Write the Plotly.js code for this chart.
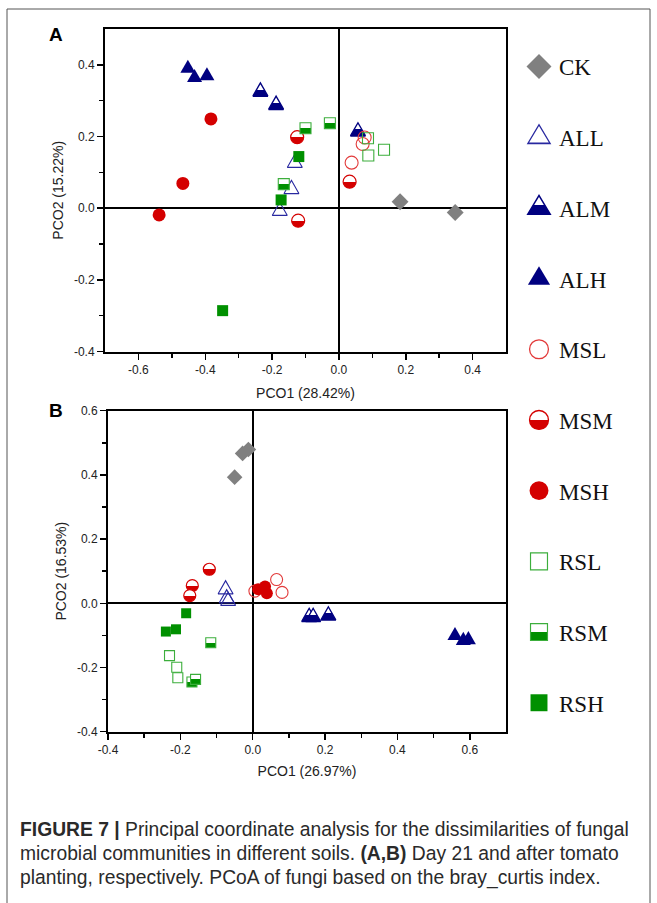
<!DOCTYPE html>
<html><head><meta charset="utf-8">
<script src="https://cdn.plot.ly/plotly-3.0.1.min.js"></script>
<style>html,body{margin:0;padding:0;background:#fff}#chart{width:657px;height:903px}</style>
</head><body><div id="chart"></div>
<script>
// ---- data ----
const GROUPS = ['CK','ALL','ALM','ALH','MSL','MSM','MSH','RSL','RSM','RSH'];

// Panel A (Day 21)
const A_PCO1 = [
  [0.183, 0.348],
  [-0.132, -0.142, -0.177],
  [-0.235, -0.188, 0.057],
  [-0.452, -0.432, -0.395],
  [0.077, 0.071, 0.038],
  [-0.125, 0.032, -0.122],
  [-0.383, -0.467, -0.538],
  [0.087, 0.135, 0.088],
  [-0.100, -0.027, -0.165],
  [-0.120, -0.173, -0.348]
];
const A_PCO2 = [
  [0.018, -0.012],
  [0.126, 0.053, -0.008],
  [0.325, 0.288, 0.214],
  [0.390, 0.364, 0.369],
  [0.197, 0.179, 0.127],
  [0.198, 0.074, -0.035],
  [0.249, 0.069, -0.019],
  [0.195, 0.163, 0.147],
  [0.223, 0.237, 0.067],
  [0.144, 0.023, -0.286]
];

// Panel B (after tomato planting)
const B_PCO1 = [
  [-0.012, -0.028, -0.050],
  [-0.075, -0.072, -0.068],
  [0.156, 0.167, 0.209],
  [0.559, 0.582, 0.596],
  [0.006, 0.066, 0.081],
  [-0.120, -0.167, -0.174],
  [0.015, 0.034, 0.039],
  [-0.230, -0.210, -0.207],
  [-0.116, -0.168, -0.158],
  [-0.184, -0.212, -0.240]
];
const B_PCO2 = [
  [0.479, 0.467, 0.393],
  [0.043, 0.015, 0.007],
  [-0.043, -0.043, -0.038],
  [-0.101, -0.116, -0.114],
  [0.038, 0.074, 0.034],
  [0.106, 0.055, 0.024],
  [0.044, 0.052, 0.031],
  [-0.163, -0.199, -0.232],
  [-0.123, -0.245, -0.237],
  [-0.031, -0.081, -0.088]
];

const A_XTICKS = [-0.6, -0.4, -0.2, 0, 0.2, 0.4];
const A_XLABELS = ['-0.6', '-0.4', '-0.2', '0.0', '0.2', '0.4'];
const A_YTICKS = [-0.4, -0.2, 0, 0.2, 0.4];
const A_YLABELS = ['-0.4', '-0.2', '0.0', '0.2', '0.4'];
const B_XTICKS = [-0.4, -0.2, 0, 0.2, 0.4, 0.6];
const B_XLABELS = ['-0.4', '-0.2', '0.0', '0.2', '0.4', '0.6'];
const B_YTICKS = [-0.4, -0.2, 0, 0.2, 0.4, 0.6];
const B_YLABELS = ['-0.4', '-0.2', '0.0', '0.2', '0.4', '0.6'];
const A_XMINOR = [-0.5, -0.3, -0.1, 0.1, 0.3];
const A_YMINOR = [-0.3, -0.1, 0.1, 0.3];
const B_XMINOR = [-0.3, -0.1, 0.1, 0.3, 0.5];
const B_YMINOR = [-0.3, -0.1, 0.1, 0.3, 0.5];

const A_XTITLE = 'PCO1 (28.42%)', A_YTITLE = 'PCO2 (15.22%)';
const B_XTITLE = 'PCO1 (26.97%)', B_YTITLE = 'PCO2 (16.53%)';

// ---- styles ----
const NAVY = '#000080', RED = '#d40000', GREEN = '#009000';
const STYLE = {
  CK:  {symbol: 'diamond', color: '#808080', lc: '#808080', lw: 0, kind: 'dia'},
  ALL: {symbol: 'triangle-up-open', color: '#2828a0', lw: 1.0, kind: 'tri'},
  ALM: {symbol: 'triangle-up', color: '#ffffff', lc: NAVY, lw: 1.2, grad: NAVY, kind: 'tri'},
  ALH: {symbol: 'triangle-up', color: NAVY, lc: NAVY, lw: 0, kind: 'tri'},
  MSL: {symbol: 'circle-open', color: '#e23a3a', lw: 1.1, kind: 'cir'},
  MSM: {symbol: 'circle', color: '#ffffff', lc: RED, lw: 1.2, grad: RED, kind: 'cir'},
  MSH: {symbol: 'circle', color: RED, lc: RED, lw: 0, kind: 'cir'},
  RSL: {symbol: 'square-open', color: '#3cae3c', lw: 1.1, kind: 'sq'},
  RSM: {symbol: 'square', color: '#ffffff', lc: '#3cae3c', lw: 1.1, grad: GREEN, kind: 'sq'},
  RSH: {symbol: 'square', color: GREEN, lc: GREEN, lw: 0, kind: 'sq'}
};
const SIZE_A = {dia: 13, tri: 13, cir: 13, sq: 11};
const SIZE_B = {dia: 12, tri: 13, cir: 12, sq: 10};
const SIZE_LEG = {dia: 16, tri: 16, cir: 16, sq: 16};
// extra shape stretch (x, y) so symbols look like the original's
const STRETCH_PLOT = {tri: [1.0, 1.35]};
const STRETCH_LEG = {dia: [1.2, 1.2], tri: [1.2, 1.55], cir: [1.18, 1.18], sq: [1.06, 1.06]};

function markerFor(g, sizes) {
  const s = STYLE[g];
  const m = {symbol: s.symbol, color: s.color, size: sizes[s.kind],
             line: {width: s.lw, color: s.lc || s.color}};
  if (s.grad) m.gradient = {type: 'vertical', color: s.grad};
  return m;
}

const traces = [];
GROUPS.forEach((g, i) => {
  traces.push({type: 'scatter', mode: 'markers', x: A_PCO1[i], y: A_PCO2[i],
    xaxis: 'x', yaxis: 'y', name: g, showlegend: false, hoverinfo: 'x+y+name',
    marker: markerFor(g, SIZE_A), cliponaxis: false});
});
GROUPS.forEach((g, i) => {
  traces.push({type: 'scatter', mode: 'markers', x: B_PCO1[i], y: B_PCO2[i],
    xaxis: 'x2', yaxis: 'y2', name: g, showlegend: false, hoverinfo: 'x+y+name',
    marker: markerFor(g, SIZE_B), cliponaxis: false});
});
// legend entries
GROUPS.forEach((g, i) => {
  traces.push({type: 'scatter', mode: 'markers', x: [null], y: [null],
    xaxis: 'x', yaxis: 'y', name: g, legendgroup: g, showlegend: true,
    marker: markerFor(g, SIZE_LEG)});
});

const W = 657, H = 903;
const px = v => v / W, py = v => 1 - v / H;

function axis(domain, range, tv, tt, minor, anchor, title, standoff) {
  return {
    domain: domain, range: range, anchor: anchor,
    tickmode: 'array', tickvals: tv, ticktext: tt,
    ticks: 'outside', ticklen: 6, tickwidth: 1.5, tickcolor: '#000',
    minor: {tickmode: 'array', tickvals: minor, ticks: 'outside', ticklen: 4, tickwidth: 1.5, tickcolor: '#000'},
    showline: true, mirror: true, linewidth: 2, linecolor: '#000',
    zeroline: true, zerolinecolor: '#000', zerolinewidth: 2,
    showgrid: false, fixedrange: true,
    tickfont: {family: 'Liberation Sans, Arial, sans-serif', size: 12, color: '#222'},
    title: {text: title, standoff: standoff,
            font: {family: 'Liberation Sans, Arial, sans-serif', size: 14, color: '#222'}}
  };
}

const captionFont = {family: 'Liberation Sans, Arial, sans-serif', size: 19.3, color: '#2a2a2a'};
const layout = {
  width: W, height: H,
  margin: {l: 0, r: 0, t: 0, b: 0},
  paper_bgcolor: '#fff', plot_bgcolor: '#fff',
  showlegend: true,
  legend: {x: px(519), y: py(45), xanchor: 'left', yanchor: 'top',
           font: {family: 'Liberation Serif, Times New Roman, serif', size: 23, color: '#111'},
           tracegroupgap: 37.8, bgcolor: 'rgba(0,0,0,0)', itemclick: false, itemdoubleclick: false},
  xaxis: axis([px(105), px(506)], [-0.7, 0.5], A_XTICKS, A_XLABELS, A_XMINOR, 'y', A_XTITLE, 12),
  yaxis: axis([py(351.5), py(29)], [-0.4, 0.5], A_YTICKS, A_YLABELS, A_YMINOR, 'x', A_YTITLE, 7),
  xaxis2: axis([px(108), px(506)], [-0.4, 0.7], B_XTICKS, B_XLABELS, B_XMINOR, 'y2', B_XTITLE, 10),
  yaxis2: axis([py(731.7), py(410.7)], [-0.4, 0.6], B_YTICKS, B_YLABELS, B_YMINOR, 'x2', B_YTITLE, 7),
  shapes: [{type: 'rect', xref: 'paper', yref: 'paper', x0: px(7), x1: px(650), y0: -0.05, y1: py(9),
            line: {color: '#555', width: 1}, fillcolor: 'rgba(0,0,0,0)', layer: 'below'}],
  annotations: [
    {text: '<b>A</b>', xref: 'paper', yref: 'paper', x: px(56), y: py(35), xanchor: 'center', yanchor: 'middle',
     showarrow: false, font: {family: 'Liberation Sans, Arial, sans-serif', size: 19, color: '#000'}},
    {text: '<b>B</b>', xref: 'paper', yref: 'paper', x: px(56), y: py(410), xanchor: 'center', yanchor: 'middle',
     showarrow: false, font: {family: 'Liberation Sans, Arial, sans-serif', size: 19, color: '#000'}},
    {text: '<b>FIGURE 7 |</b> Principal coordinate analysis for the dissimilarities of fungal',
     xref: 'paper', yref: 'paper', x: px(18), y: py(829), xanchor: 'left', yanchor: 'middle', showarrow: false, font: captionFont},
    {text: 'microbial communities in different soils. <b>(A,B)</b> Day 21 and after tomato',
     xref: 'paper', yref: 'paper', x: px(18), y: py(853), xanchor: 'left', yanchor: 'middle', showarrow: false, font: captionFont},
    {text: 'planting, respectively. PCoA of fungi based on the bray_curtis index.',
     xref: 'paper', yref: 'paper', x: px(18), y: py(878), xanchor: 'left', yanchor: 'middle', showarrow: false, font: captionFont}
  ]
};

// make the vertical marker gradients a sharp split
function sharpen(gd) {
  gd.querySelectorAll('linearGradient').forEach(g => {
    if (g.getAttribute('data-sharp')) return;
    const stops = g.querySelectorAll('stop');
    if (stops.length !== 2) return;
    const get = (s, a) => s.getAttribute(a) || s.style.getPropertyValue(a) || '';
    const c0 = get(stops[0], 'stop-color'), c1 = get(stops[1], 'stop-color');
    const o0 = get(stops[0], 'stop-opacity') || '1', o1 = get(stops[1], 'stop-opacity') || '1';
    const lc = c0.toLowerCase();
    let cut = 0.5;
    if (lc === NAVY) cut = 0.42;
    else if (lc === GREEN) cut = 0.6;
    while (g.firstChild) g.removeChild(g.firstChild);
    [[0, c0, o0], [cut, c0, o0], [cut, c1, o1], [1, c1, o1]].forEach(d => {
      const st = document.createElementNS('http://www.w3.org/2000/svg', 'stop');
      st.setAttribute('offset', (d[0] * 100) + '%');
      st.setAttribute('stop-color', d[1]);
      st.setAttribute('stop-opacity', d[2]);
      g.appendChild(st);
    });
    g.setAttribute('data-sharp', '1');
  });
}

// stretch symbol shapes a little (triangles are flatter in plotly than in the original)
function stretch(gd) {
  const traceOf = el => {
    const d = el.__data__;
    if (!d) return null;
    if (Array.isArray(d) && d[0]) return d[0].trace || (Array.isArray(d[0]) && d[0][0] && d[0][0].trace) || null;
    return d.trace || null;
  };
  gd.querySelectorAll('.scatterlayer .trace').forEach(tr => {
    const t = traceOf(tr); if (!t || !STYLE[t.name]) return;
    const f = STRETCH_PLOT[STYLE[t.name].kind]; if (!f) return;
    tr.querySelectorAll('path.point').forEach(p => {
      if (p.getAttribute('data-st')) return;
      p.setAttribute('transform', (p.getAttribute('transform') || '') + ' scale(' + f[0] + ',' + f[1] + ')');
      p.setAttribute('data-st', '1');
    });
  });
  gd.querySelectorAll('.legend .traces').forEach(tr => {
    const t = traceOf(tr); if (!t || !STYLE[t.name]) return;
    const f = STRETCH_LEG[STYLE[t.name].kind]; if (!f) return;
    tr.querySelectorAll('path.scatterpts').forEach(p => {
      if (p.getAttribute('data-st')) return;
      p.setAttribute('transform', (p.getAttribute('transform') || '') + ' scale(' + f[0] + ',' + f[1] + ')');
      p.setAttribute('data-st', '1');
    });
  });
}

const gd = document.getElementById('chart');
Plotly.newPlot(gd, traces, layout, {staticPlot: true, displayModeBar: false}).then(() => {
  sharpen(gd);
  stretch(gd);
  gd.on && gd.on('plotly_afterplot', () => { sharpen(gd); stretch(gd); });
});
</script></body></html>
